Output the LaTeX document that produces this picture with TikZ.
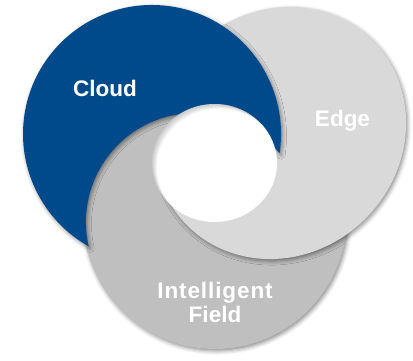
\documentclass[tikz,border=0pt]{standalone}
\usepackage{fontspec}
\setmainfont{Liberation Sans}
\newfontfamily\widefont[LetterSpace=4]{Liberation Sans}
\usetikzlibrary{shadows.blur}
\definecolor{cloudblue}{RGB}{0,74,140}
\definecolor{edgegray}{RGB}{217,217,217}
\definecolor{fieldgray}{RGB}{191,191,191}
\begin{document}
\begin{tikzpicture}[x=1pt,y=1pt,
  shapeshadow/.style={blur shadow={shadow xshift=1.5pt, shadow yshift=-2pt, shadow blur radius=4pt, shadow opacity=45}},
  lbl/.style={text=white, font=\bfseries\fontsize{22.5}{27}\selectfont, anchor=base, inner sep=0pt}]
\useasboundingbox (0,0) rectangle (413,361);
% Intelligent Field
\path[fill=fieldgray, shapeshadow] (215,144) circle (132);
% Edge (tilted ellipse)
\path[fill=edgegray, shapeshadow]
  plot[domain=0:357, samples=120, variable=\t]
  ({280 + 131*cos(\t)*0.70711 - 121*sin(\t)*0.70711},
   {228 + 131*cos(\t)*0.70711 + 121*sin(\t)*0.70711}) -- cycle;
% Field shows above Edge at upper left of the hole
\begin{scope}
  \clip (0,171) rectangle (215,361);
  \fill[fieldgray] (215,144) circle (132);
\end{scope}
% Cloud (circle with a round cut)
\path[fill=cloudblue, shapeshadow]
  (279.56,207.8) arc[start angle=-8.56, end angle=240.6, radius=129]
  arc[start angle=192.9, end angle=39.1, radius=109] -- cycle;
% central hole
\fill[white] (214.5,198) ellipse [x radius=62.5, y radius=59];
\begin{scope}
  \clip (214.5,198) ellipse [x radius=62.5, y radius=59];
  \foreach \k in {1,...,6}
    \fill[black, opacity=0.035, even odd rule] (100,80) rectangle (330,320)
      ({214.5+0.8*\k},{198-0.8*\k}) ellipse [x radius=62.5, y radius=59];
\end{scope}
% labels
\node[lbl] (cloud) at (105,264) {Cloud};
\node[lbl] (edge) at (342.5,234) {Edge};
\node[lbl, font=\widefont\bfseries\fontsize{22.5}{27}\selectfont] (intel) at (215,62) {Intelligent};
\node[lbl] (field) at (215,38) {Field};
\end{tikzpicture}
\end{document}
